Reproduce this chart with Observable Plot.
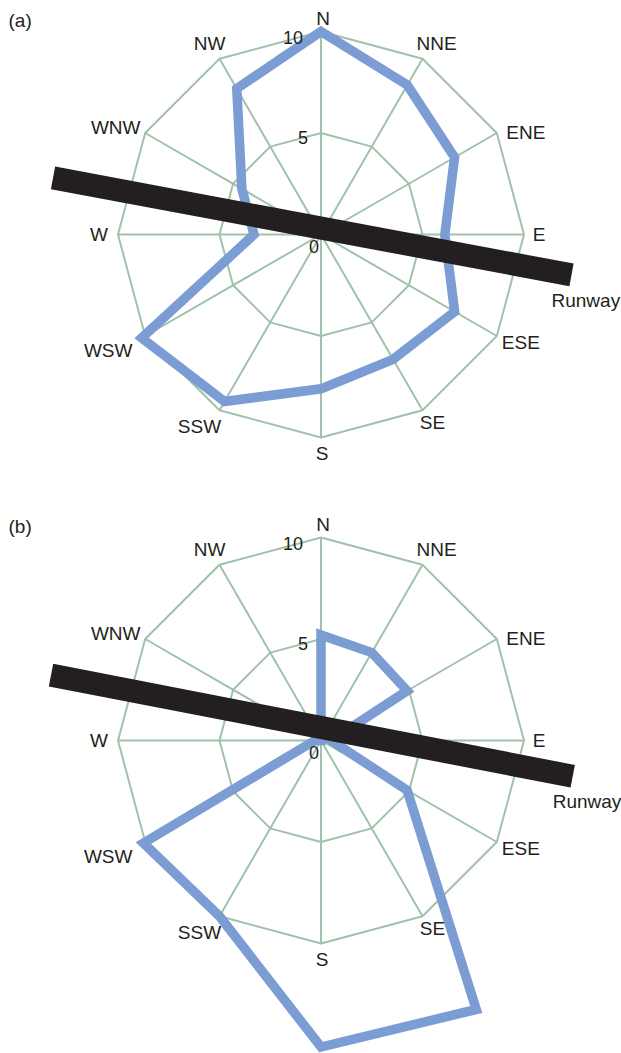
<!DOCTYPE html>
<html>
<head>
<meta charset="utf-8">
<script src="https://cdn.jsdelivr.net/npm/d3@7"></script>
<script src="https://cdn.jsdelivr.net/npm/@observablehq/plot@0.6"></script>
<style>
  html, body { margin: 0; padding: 0; background: #fff; }
  #chart { width: 621px; }
  #chart svg { display: block; }
</style>
</head>
<body>
<div id="chart"></div>
<script>
// ---- data ----
const directions = ["N", "NNE", "ENE", "E", "ESE", "SE", "S", "SSW", "WSW", "W", "WNW", "NW"];
const valuesA = [10, 8.5, 7.6, 6.1, 7.6, 7.1, 7.6, 9.5, 10.2, 3.3, 4.5, 8.3];
const valuesB = [5.2, 5.0, 4.9, 0.5, 4.9, 15.3, 15.1, 10.0, 10.1, 0.3, 0, 0];
const ringLevels = [5, 10];
const tickValues = [0, 5, 10];
const tickLabels = ["0", "5", "10"];
// runway ends (x = east, y = north, in chart units)
const runwayA = [{x: -13.2, y: 2.79}, {x: 12.34, y: -1.99}];
const runwayB = [{x: -13.3, y: 3.22}, {x: 12.4, y: -1.76}];
const panelLetters = ["(a)", "(b)"];

// ---- styles ----
const GREEN = "#a0c2ab", BLUE = "#7b9dd3", BLACK = "#231f20";
const FONT = "'Liberation Sans', Arial, Helvetica, sans-serif";
const labelOffsets = [[2,-13],[14,-14.5],[29,0],[15,0],[24,6.5],[10,13],[1,16],[-20,16.5],[-37,14.5],[-19,0],[-29.5,-5],[-10,-14.5]];
const tickOffsets = [[-2, 13], [-13, 5.5], [-18, 7]];
const W = 621, CX = 320.5, CY = 234, K = 20.3;

const ang = i => i * Math.PI / 6;
const px = (r, i) => r * Math.sin(ang(i));
const py = (r, i) => r * Math.cos(ang(i));

function panel(values, runway, letter, H) {
  const rings = ringLevels.flatMap(l => directions.map((d, i) => ({level: l, i})));
  const pts = values.map((v, i) => ({v, i}));
  const marks = [
    Plot.link(directions, {x1: 0, y1: 0, x2: (d, i) => px(10, i), y2: (d, i) => py(10, i), stroke: GREEN, strokeWidth: 2}),
    Plot.line(rings, {x: d => px(d.level, d.i), y: d => py(d.level, d.i), z: "level", curve: "linear-closed", stroke: GREEN, strokeWidth: 2}),
    Plot.line(pts, {x: d => px(d.v, d.i), y: d => py(d.v, d.i), curve: "linear-closed", stroke: BLUE, strokeWidth: 9.5, strokeLinejoin: "miter", strokeMiterlimit: 10}),
    Plot.line(runway, {x: "x", y: "y", stroke: BLACK, strokeWidth: 23, strokeLinecap: "butt"}),
    ...directions.map((d, i) => Plot.text([d], {x: () => px(10, i), y: () => py(10, i), text: t => t, dx: labelOffsets[i][0], dy: labelOffsets[i][1], fill: BLACK, fontSize: 19, textAnchor: "middle"})),
    ...tickValues.map((v, j) => Plot.text([tickLabels[j]], {x: () => px(v, 0), y: () => py(v, 0), text: t => t, dx: tickOffsets[j][0], dy: tickOffsets[j][1], fill: BLACK, fontSize: 18, textAnchor: "end"})),
    Plot.text(["Runway"], {x: () => runway[1].x, y: () => runway[1].y, text: t => t, dx: -20, dy: 26, textAnchor: "start", fill: BLACK, fontSize: 19}),
    Plot.text([letter], {frameAnchor: "top-left", text: t => t, dx: 8, dy: 20, textAnchor: "start", lineAnchor: "middle", fill: BLACK, fontSize: 19})
  ];
  return Plot.plot({
    width: W, height: H,
    margin: 0,
    style: {fontFamily: FONT, background: "#fff", overflow: "visible"},
    x: {domain: [-CX / K, (W - CX) / K], range: [0, W], axis: null},
    y: {domain: [-(H - CY) / K, CY / K], range: [H, 0], axis: null},
    marks
  });
}

const root = document.getElementById("chart");
root.appendChild(panel(valuesA, runwayA, panelLetters[0], 506));
root.appendChild(panel(valuesB, runwayB, panelLetters[1], 547));
</script>
</body>
</html>
